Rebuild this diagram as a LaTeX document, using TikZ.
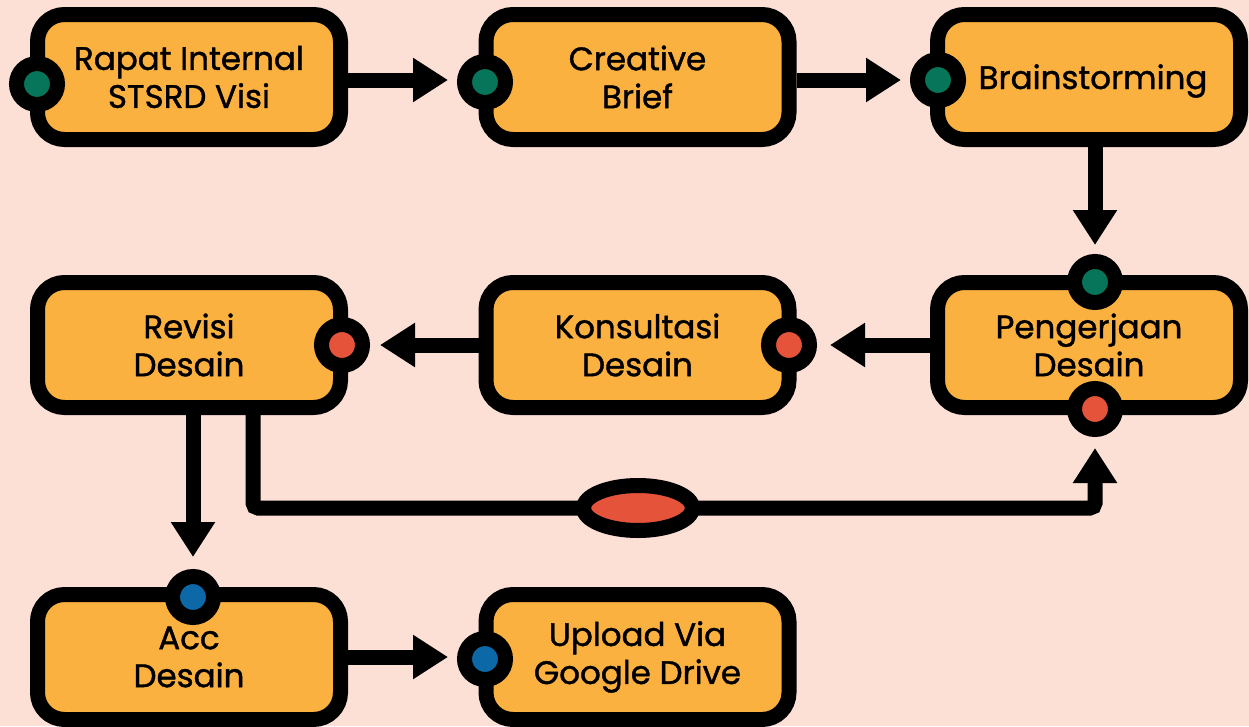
\documentclass[tikz,border=0pt]{standalone}
\usepackage{fontspec}
\setmainfont{Poppins}[UprightFeatures={FakeBold=1.2}]
\usetikzlibrary{arrows.meta,shapes.geometric}
\definecolor{bgc}{HTML}{FCE0D6}
\definecolor{boxc}{HTML}{FBB13F}
\definecolor{tealc}{HTML}{067559}
\definecolor{redc}{HTML}{E4533A}
\definecolor{bluec}{HTML}{0D68A8}
\tikzset{
  stepbox/.style={draw=black, fill=boxc, line width=15pt, rounded corners=27pt,
    minimum width=303pt, minimum height=125pt, align=center,
    font=\fontsize{32.5}{38}\selectfont, text=black},
  port/.style={circle, draw=black, line width=15pt, minimum size=41pt, inner sep=0pt},
  arr/.style={line width=15pt, -{Triangle[length=35pt,width=42pt]}},
}
\begin{document}
\begin{tikzpicture}[x=1pt,y=-1pt]
\useasboundingbox (0,0) rectangle (1249,726);
\fill[bgc] (0,0) rectangle (1249,726);
% boxes
\node[stepbox] (b1) at (189,77) {Rapat Internal\\STSRD Visi};
\node[stepbox] (b2) at (637.5,77) {Creative\\Brief};
\node[stepbox, text height=24pt, text depth=0pt] (b3) at (1089,77) {\hspace*{8pt}Brainstorming};
\node[stepbox] (b5) at (1089,345) {Pengerjaan\\Desain};
\node[stepbox] (b6) at (637.5,345) {Konsultasi\\Desain};
\node[stepbox] (b4) at (189,345) {Revisi\\Desain};
\node[stepbox] (b7) at (189,657) {Acc\\Desain};
\node[stepbox] (b8) at (637.5,657) {Upload Via\\Google Drive};
% ports
\node[port, fill=tealc] (p1) at (37,84) {};
\node[port, fill=tealc] (p2) at (485,82) {};
\node[port, fill=tealc] (p3) at (938,80) {};
\node[port, fill=tealc] (p5) at (1095,282) {};
\node[port, fill=redc] (p6) at (1095,409) {};
\node[port, fill=redc] (p7) at (789,345) {};
\node[port, fill=redc] (p4) at (342,345) {};
\node[port, fill=bluec] (p8) at (193,597) {};
\node[port, fill=bluec] (p9) at (485,659) {};
% connectors
\draw[arr, shorten >=9pt] (b1.east |- 0,80) -- (p2.west |- 0,80);
\draw[arr, shorten >=9pt] (b2.east |- 0,80) -- (p3.west |- 0,80);
\draw[arr, shorten >=9pt] (p5 |- b3.south) -- (p5.north);
\draw[arr, shorten >=13pt] (b5.west |- p7) -- (p7.east);
\draw[arr, shorten >=10pt] (b6.west |- p4) -- (p4.east);
\draw[arr, shorten >=12pt] (p8 |- b4.south) -- (p8.north);
\draw[arr, shorten >=9pt] (b7.east |- 0,657) -- (p9.west |- 0,657);
\coordinate (lc) at (253,508);
\draw[arr, rounded corners=5pt, shorten >=11pt] (lc |- b4.south) -- (lc) -- (lc -| p6) -- (p6.south);
\node[ellipse, draw=black, fill=redc, line width=15pt, minimum width=109pt, minimum height=45pt, inner sep=0pt] (e1) at (638,508) {};
\end{tikzpicture}
\end{document}
